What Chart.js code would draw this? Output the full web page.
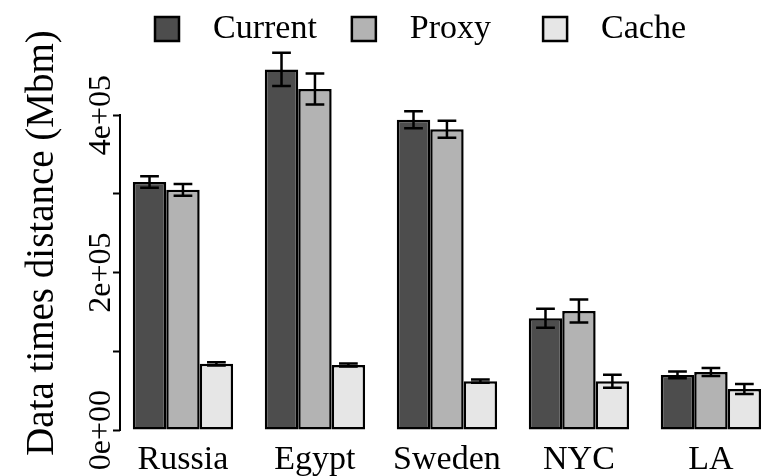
<!DOCTYPE html>
<html>
<head>
<meta charset="utf-8">
<title>Data times distance</title>
<script src="https://cdn.jsdelivr.net/npm/chart.js@4"></script>
<style>
    html, body { margin: 0; padding: 0; background: #fff; }
    #wrap { width: 769px; height: 476px; position: relative; }
</style>
</head>
<body>
<div id="wrap"><canvas id="chart"></canvas></div>
<script>
// =====================
// DATA
// =====================

const categories = ['Russia', 'Egypt', 'Sweden', 'NYC', 'LA'];

const currentVals = [315000, 458000, 394000, 142000, 70000];
const currentErr  = [7200, 21000, 10800, 12000, 4400];

const proxyVals = [305000, 433000, 382000, 151000, 73700];
const proxyErr  = [7500, 19700, 10800, 14600, 5000];

const cacheVals = [84000, 82500, 62000, 62000, 52000];
const cacheErr  = [2000, 2000, 2000, 8200, 6300];

const yTicks = [0, 100000, 200000, 300000, 400000];
const yTickLabels = ['0e+00', '', '2e+05', '', '4e+05'];

const FONT = "'Liberation Serif', 'Times New Roman', serif";

// =====================
// PLUGINS
// =====================

// error bars with caps, drawn over the bars
const errorBars = {
    id: 'errorBars',
    afterDatasetsDraw(chart) {
        const ctx = chart.ctx;
        const yScale = chart.scales.y;
        ctx.save();
        ctx.strokeStyle = '#000';
        ctx.lineWidth = 2.5;
        chart.data.datasets.forEach((ds, di) => {
            const meta = chart.getDatasetMeta(di);
            meta.data.forEach((bar, i) => {
                const v = ds.data[i].y;
                const e = ds.errors[i];
                const top = yScale.getPixelForValue(v + e);
                const bot = yScale.getPixelForValue(v - e);
                const half = bar.width * 0.28;
                ctx.beginPath();
                ctx.moveTo(bar.x, top);
                ctx.lineTo(bar.x, bot);
                ctx.moveTo(bar.x - half, top);
                ctx.lineTo(bar.x + half, top);
                ctx.moveTo(bar.x - half, bot);
                ctx.lineTo(bar.x + half, bot);
                ctx.stroke();
            });
        });
        ctx.restore();
    }
};

// R style axis line, only spanning the tick range
const axisLine = {
    id: 'axisLine',
    afterDraw(chart) {
        const ctx = chart.ctx;
        const y = chart.scales.y;
        ctx.save();
        ctx.strokeStyle = '#000';
        ctx.lineWidth = 2;
        ctx.beginPath();
        ctx.moveTo(y.right, y.getPixelForValue(yTicks[0]) + 1);
        ctx.lineTo(y.right, y.getPixelForValue(yTicks[yTicks.length - 1]) - 1);
        ctx.stroke();
        ctx.restore();
    }
};

// =====================
// CHART
// =====================

function makeDataset(label, vals, errs, color) {
    return {
        label: label,
        data: vals.map((v, i) => ({ x: i, y: v })),
        errors: errs,
        backgroundColor: color,
        borderColor: '#000',
        borderWidth: 2.5,
        borderSkipped: false,
        barPercentage: 1,
        categoryPercentage: 0.76,
    };
}

new Chart(document.getElementById('chart'), {
    type: 'bar',
    data: {
        datasets: [
            makeDataset('Current', currentVals, currentErr, '#4d4d4d'),
            makeDataset('Proxy', proxyVals, proxyErr, '#b3b3b3'),
            makeDataset('Cache', cacheVals, cacheErr, '#e6e6e6'),
        ],
    },
    options: {
        responsive: true,
        maintainAspectRatio: false,
        animation: false,
        layout: { padding: { top: -23, right: 0, left: 0, bottom: 0 } },
        plugins: {
            tooltip: { enabled: false },
            legend: {
                position: 'top',
                align: 'start',
                fullSize: false,
                labels: {
                    color: '#000',
                    font: { family: FONT, size: 34 },
                    boxWidth: 24,
                    boxHeight: 24,
                    padding: 35,
                    generateLabels(chart) {
                        const items = Chart.defaults.plugins.legend.labels.generateLabels(chart);
                        items.forEach((it, i) => {
                            it.text = '  ' + it.text + (i === 1 ? '  ' : '');
                            it.lineWidth = 2.5;
                        });
                        return items;
                    },
                },
            },
        },
        scales: {
            x: {
                type: 'linear',
                offset: false,
                min: -0.477,
                max: 4.44,
                afterBuildTicks(scale) {
                    scale.ticks = categories.map((c, i) => ({ value: i }));
                },
                afterFit(scale) {
                    scale.height = 46;
                },
                ticks: {
                    color: '#000',
                    font: { family: FONT, size: 34 },
                    padding: 2,
                    autoSkip: false,
                    maxRotation: 0,
                    callback: (v) => categories[v],
                },
                grid: { display: false },
                border: { display: false },
            },
            y: {
                min: 0,
                max: 475000,
                afterBuildTicks(scale) {
                    scale.ticks = yTicks.map(v => ({ value: v }));
                },
                afterFit(scale) {
                    scale.width = 120;
                },
                ticks: {
                    color: '#000',
                    font: { family: FONT, size: 32 },
                    minRotation: 90,
                    maxRotation: 90,
                    crossAlign: 'center',
                    padding: -29,
                    autoSkip: false,
                    callback: (v, i) => yTickLabels[i],
                },
                grid: {
                    drawOnChartArea: false,
                    drawTicks: true,
                    tickLength: 7,
                    tickWidth: 2,
                    tickColor: '#000',
                },
                border: { display: false },
                title: {
                    display: true,
                    text: 'Data times distance (Mbm)',
                    color: '#000',
                    font: { family: FONT, size: 39 },
                    padding: { top: 19, bottom: 0 },
                },
            },
        },
    },
    plugins: [errorBars, axisLine],
});
</script>
</body>
</html>
